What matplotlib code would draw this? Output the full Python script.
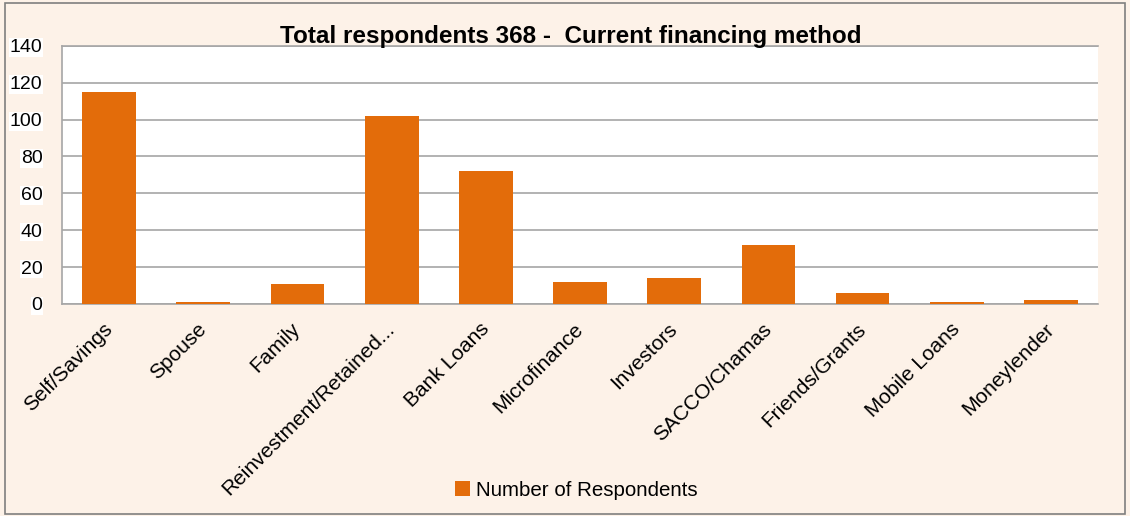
import matplotlib
matplotlib.use("Agg")
import matplotlib.pyplot as plt
from matplotlib.patches import Rectangle

plt.rcParams['font.family'] = ['Liberation Sans', 'DejaVu Sans']

categories = ["Self/Savings", "Spouse", "Family", "Reinvestment/Retained...",
              "Bank Loans", "Microfinance", "Investors", "SACCO/Chamas",
              "Friends/Grants", "Mobile Loans", "Moneylender"]
respondents = [115, 1, 11, 102, 72, 12, 14, 32, 6, 1, 2]
y_ticks = [0, 20, 40, 60, 80, 100, 120, 140]
title = "Total respondents 368 -  Current financing method"
series_name = "Number of Respondents"

bg = "#FDF2E8"
bar_color = "#E36C0A"
grid_color = "#A6A6A6"

fig = plt.figure(figsize=(11.3, 5.16), dpi=100, facecolor=bg)
fig.patches.append(Rectangle((0.004, 0.004), 0.992, 0.99, transform=fig.transFigure,
                             fill=False, edgecolor="#7F7F7F", linewidth=1.2))

ax = fig.add_axes([0.0549, 0.4109, 0.9168, 0.5005])
ax.set_facecolor("white")
x = list(range(len(categories)))
ax.bar(x, respondents, width=0.57, color=bar_color, label=series_name, zorder=3)

ax.set_ylim(0, 140)
ax.set_xlim(-0.5, len(categories) - 0.5)
ax.set_yticks(y_ticks)
ax.yaxis.grid(True, color=grid_color, linewidth=1.2, zorder=0)
ax.set_axisbelow(True)

for side in ("left", "bottom", "top"):
    ax.spines[side].set_color(grid_color)
    ax.spines[side].set_linewidth(1.2)
ax.spines["right"].set_visible(False)

ax.tick_params(axis="both", length=0)
ax.tick_params(axis="y", labelsize=14, pad=14)
ax.tick_params(axis="x", labelsize=15, pad=16)
for lbl in ax.get_yticklabels():
    lbl.set_bbox(dict(facecolor="white", edgecolor="none", pad=0.5))
ax.set_xticks(x)
ax.set_xticklabels(categories, rotation=45, ha="right", va="center",
                   rotation_mode="anchor")

fig.text(0.505, 0.93, title, ha="center", va="center", fontsize=17.5,
         fontweight="bold", color="black")

fig.legend(loc="center", bbox_to_anchor=(0.51, 0.05), frameon=False,
           fontsize=14.75, handlelength=0.7, handleheight=0.7, handletextpad=0.3)

fig.savefig("out.png", dpi=100, facecolor=bg)
